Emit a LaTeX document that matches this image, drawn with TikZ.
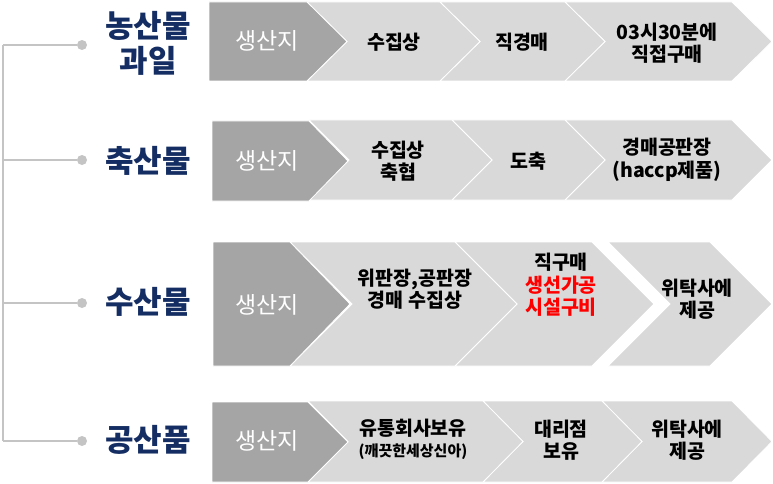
\documentclass[tikz,border=0pt]{standalone}
\usepackage{fontspec}
\setmainfont{Noto Sans CJK KR}
\usepackage{tikz}

\definecolor{darkgrey}{HTML}{A5A5A5}
\definecolor{lightgrey}{HTML}{D9D9D9}
\definecolor{treegrey}{HTML}{C4C4C4}
\definecolor{navy}{HTML}{142D62}

% first piece of a row: #1 left, #2 right, #3 top, #4 bottom, #5 depth
\newcommand{\headpiece}[5]{%
  \path[headfill] (#1,#3) -- (#2,#3) -- ({#2+#5},{(#3+#4)/2}) -- (#2,#4) -- (#1,#4) -- cycle;}
% chevron behind it
\newcommand{\chevpiece}[5]{%
  \path[chevfill] (#1,#3) -- (#2,#3) -- ({#2+#5},{(#3+#4)/2}) -- (#2,#4) -- (#1,#4) -- ({#1+#5},{(#3+#4)/2}) -- cycle;}

\begin{document}
\begin{tikzpicture}[x=1pt,y=-1pt]
\tikzset{headfill/.style={fill=darkgrey, draw=white, line width=0.8pt},
  chevfill/.style={fill=lightgrey, draw=white, line width=0.8pt},
  group/.style={text=navy, font=\fontsize{31}{35}\selectfont\bfseries, align=center},
  source/.style={text=white, font=\fontsize{23}{26}\selectfont},
  stage/.style={font=\fontsize{19.5}{22.5}\selectfont\bfseries, align=center},
  dot/.style={circle, fill=treegrey, inner sep=0pt, minimum size=10pt},
  branch/.style={draw=treegrey, line width=1.6pt}}
\useasboundingbox (0,0) rectangle (773,484);

% row 1
\chevpiece{565}{732}{2}{81}{40}
\chevpiece{440}{565}{2}{81}{40}
\chevpiece{307}{440}{2}{81}{40}
\headpiece{209}{307}{2}{81}{40}
% row 2
\chevpiece{565}{732}{120}{200}{40}
\chevpiece{452}{565}{120}{200}{40}
\chevpiece{309}{452}{120}{200}{40}
\headpiece{212}{309}{121}{201}{39}
% row 3
\chevpiece{608}{710}{242}{366}{62}
\chevpiece{455}{592}{242}{366}{62}
\chevpiece{290}{455}{242}{366}{62}
\headpiece{213}{290}{242}{366}{60}
% row 4
\chevpiece{602}{732}{401}{482}{40}
\chevpiece{483}{602}{401}{482}{40}
\chevpiece{308}{483}{401}{482}{40}
\headpiece{212}{308}{402}{482}{40}

% left tree
\coordinate (top) at (3,45);
\coordinate (bottom) at (3,441);
\draw[branch] (top) -- (bottom);
\foreach \y/\n in {45/a,160/b,303/c,441/d} {
\coordinate (j\n) at (3,\y);
\node[dot] (dot\n) at (82,\y) {};
\draw[branch] (j\n) -- (dot\n);
}

% groups
\node[group] (farm) at (148,43) {농산물\\과일};
\node[group] (meat) at (148,161) {축산물};
\node[group] (fish) at (148,302) {수산물};
\node[group] (goods) at (148,440) {공산품};

\foreach \y/\n in {41/a,161/b,305/c,441/d}
\node[source] (src\n) at (267,\y) {생산지};

% row 1 stages
\node[stage] (a1) at (394,42) {수집상};
\node[stage] (a2) at (522,42) {직경매};
\node[stage] (a3) at (667,43) {03시30분에\\직접구매};
% row 2 stages
\node[stage] (b1) at (398,161) {수집상\\축협};
\node[stage] (b2) at (528,161) {도축};
\node[stage] (b3) at (667,160) {경매공판장\\(haccp제품)};
% row 3 stages
\node[stage] (c1) at (415,289) {위판장,공판장\\경매 수집상};
\node[stage] (c2) at (561,285) {직구매\\\textcolor{red}{생선가공}\\\textcolor{red}{시설구비}};
\node[stage] (c3) at (697,299) {위탁사에\\제공};
% row 4 stages
\node[stage] (d1) at (413,428) {유통회사보유};
\node[font=\fontsize{15}{17}\selectfont\bfseries] (d1s) at (413,452) {(깨끗한세상신아)};
\node[stage] (d2) at (561,440) {대리점\\보유};
\node[stage] (d3) at (687,440) {위탁사에\\제공};

\end{tikzpicture}
\end{document}
